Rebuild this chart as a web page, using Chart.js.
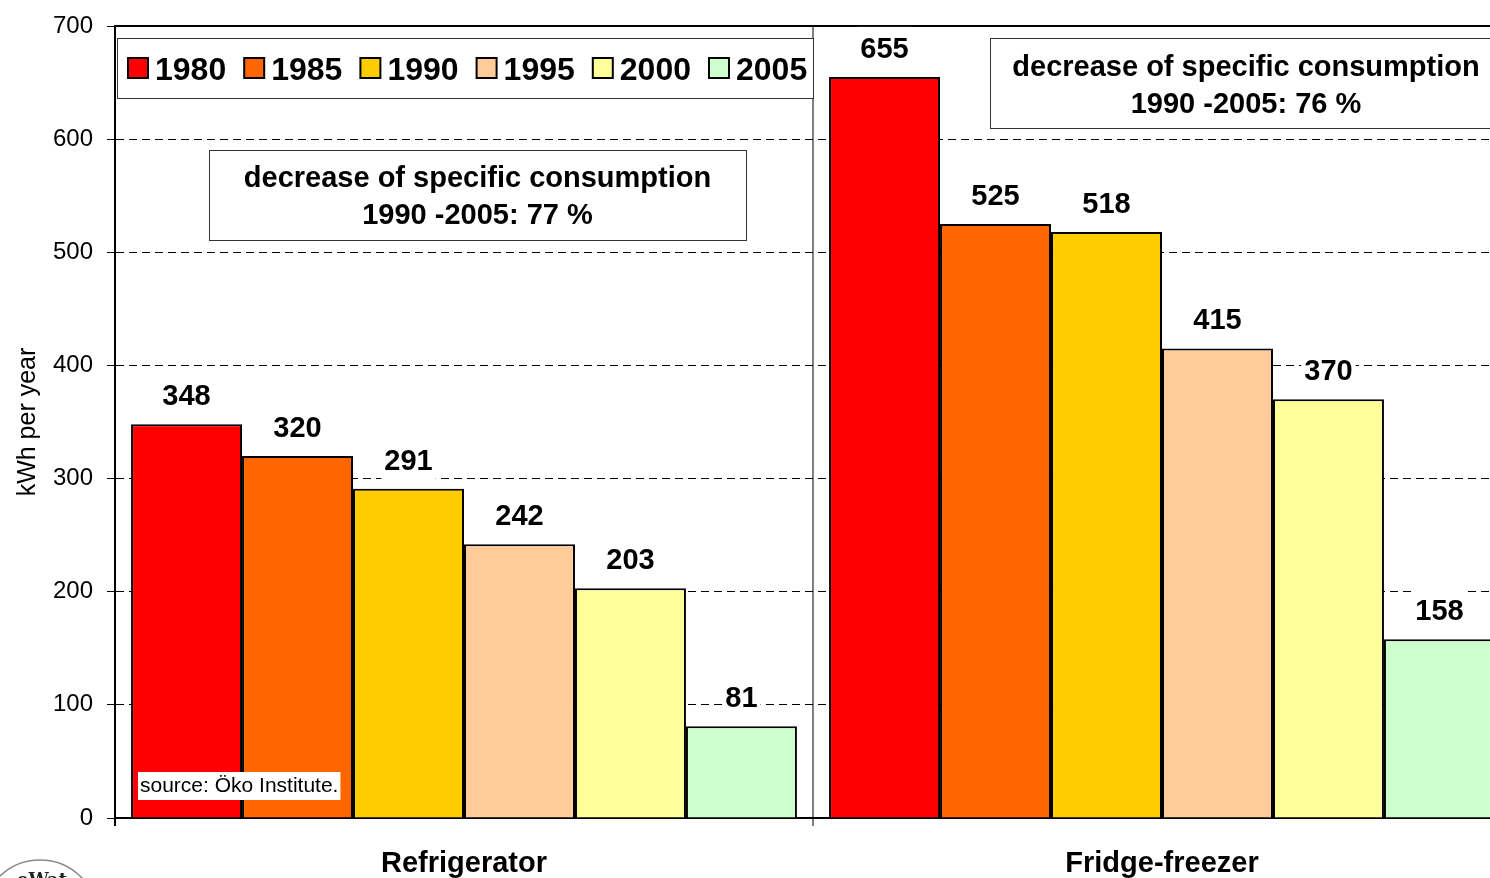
<!DOCTYPE html>
<html>
<head>
<meta charset="utf-8">
<title>Specific consumption of cold appliances</title>
<script src="https://cdn.jsdelivr.net/npm/chart.js@4.4.0/dist/chart.umd.min.js"></script>
<style>
  html, body { margin: 0; padding: 0; background: #fff; overflow: hidden; }
  #wrap { width: 1512px; height: 878px; }
</style>
</head>
<body>
<div id="wrap"><canvas id="chart" width="1512" height="878"></canvas></div>
<script>
// categories on the x axis
var categories = ['Refrigerator', 'Fridge-freezer'];

// one dataset per year
var years = ['1980', '1985', '1990', '1995', '2000', '2005'];
var colors = ['#FF0000', '#FF6600', '#FFCC00', '#FFCC99', '#FFFF99', '#CCFFCC'];

// kWh per year, same order as years
var refrigerator = [348, 320, 291, 242, 203, 81];
var fridgeFreezer = [655, 525, 518, 415, 370, 158];

// y axis
var yMin = 0;
var yMax = 700;
var yStep = 100;

// text boxes
var noteRefrigerator = ['decrease of specific consumption', '1990 -2005: 77 %'];
var noteFridgeFreezer = ['decrease of specific consumption', '1990 -2005: 76 %'];
var sourceText = 'source: \u00D6ko Institute.';

var FONT = 'Arial, "Liberation Sans", sans-serif';

var datasets = years.map(function (y, i) {
    return {
        label: y,
        data: [refrigerator[i], fridgeFreezer[i]],
        backgroundColor: colors[i],
        borderColor: '#000',
        borderWidth: 2,
        categoryPercentage: 0.954,
        barPercentage: 1.0
    };
});

//top frame line (the 700 gridline is solid)
var frameTop = {
    id: 'frameTop',
    beforeDatasetsDraw: function (chart) {
        var ctx = chart.ctx, a = chart.chartArea;
        ctx.save();
        ctx.strokeStyle = '#000';
        ctx.lineWidth = 2;
        ctx.beginPath();
        ctx.moveTo(a.left, a.top);
        ctx.lineTo(a.right, a.top);
        ctx.stroke();
        ctx.restore();
    }
};

//value above each bar, on a white patch
var valueLabels = {
    id: 'valueLabels',
    afterDatasetsDraw: function (chart) {
        var ctx = chart.ctx;
        ctx.save();
        ctx.font = 'bold 29px ' + FONT;
        ctx.textAlign = 'center';
        ctx.textBaseline = 'alphabetic';
        chart.data.datasets.forEach(function (ds, i) {
            chart.getDatasetMeta(i).data.forEach(function (bar, j) {
                var txt = String(ds.data[j]);
                var w = ctx.measureText(txt).width;
                ctx.fillStyle = '#fff';
                ctx.fillRect(bar.x - w / 2 - 3, bar.y - 50, w + 6, 46);
                ctx.fillStyle = '#000';
                ctx.fillText(txt, bar.x, bar.y - 19);
            });
        });
        ctx.restore();
    }
};

function noteBox(ctx, x, y, w, h, lines, lineGap, shift) {
    ctx.fillStyle = '#fff';
    ctx.fillRect(x, y, w, h);
    ctx.strokeStyle = '#333';
    ctx.lineWidth = 1;
    ctx.strokeRect(x + 0.5, y + 0.5, w, h);
    ctx.fillStyle = '#000';
    ctx.font = 'bold 29px ' + FONT;
    ctx.textAlign = 'center';
    ctx.textBaseline = 'middle';
    var cy = y + h / 2 - lineGap * (lines.length - 1) / 2 + shift;
    lines.forEach(function (l, k) {
        ctx.fillText(l, x + w / 2, cy + k * lineGap);
    });
}

//legend box, notes, source
var extras = {
    id: 'extras',
    afterDatasetsDraw: function (chart) {
        var ctx = chart.ctx, a = chart.chartArea;
        ctx.save();

        // legend
        var lx = a.left + 2, ly = 38;
        ctx.fillStyle = '#fff';
        ctx.fillRect(lx, ly, 696, 60);
        ctx.strokeStyle = '#333';
        ctx.lineWidth = 1;
        ctx.strokeRect(lx + 0.5, ly + 0.5, 696, 60);
        ctx.font = 'bold 32px ' + FONT;
        ctx.textAlign = 'left';
        ctx.textBaseline = 'alphabetic';
        chart.data.datasets.forEach(function (ds, i) {
            var x = lx + 11 + i * 116.2;
            ctx.fillStyle = ds.backgroundColor;
            ctx.fillRect(x, ly + 20, 20, 20);
            ctx.strokeStyle = '#000';
            ctx.lineWidth = 2;
            ctx.strokeRect(x, ly + 20, 20, 20);
            ctx.fillStyle = '#000';
            ctx.fillText(ds.label, x + 27, ly + 42);
        });

        noteBox(ctx, 209, 150, 537, 90, noteRefrigerator, 37, 2);
        noteBox(ctx, 990, 38, 512, 90, noteFridgeFreezer, 37, 3);

        // source
        ctx.font = '21px ' + FONT;
        var sw = ctx.measureText(sourceText).width;
        ctx.fillStyle = '#fff';
        ctx.fillRect(138, 772, sw + 4, 28);
        ctx.fillStyle = '#000';
        ctx.textAlign = 'left';
        ctx.textBaseline = 'middle';
        ctx.fillText(sourceText, 140, 786);

        ctx.restore();
    },
    afterDraw: function (chart) {
        // bit of the logo at bottom left
        var ctx = chart.ctx;
        ctx.save();
        ctx.strokeStyle = '#888';
        ctx.lineWidth = 1.5;
        ctx.beginPath();
        ctx.arc(40, 918, 58, 0, Math.PI * 2);
        ctx.stroke();
        ctx.fillStyle = '#222';
        ctx.font = 'bold 18px "DejaVu Serif", serif';
        ctx.textAlign = 'center';
        ctx.textBaseline = 'alphabetic';
        ctx.fillText('eWat', 42, 886);
        ctx.restore();
    }
};

var chart = new Chart(document.getElementById('chart').getContext('2d'), {
    type: 'bar',
    data: {
        labels: categories,
        datasets: datasets
    },
    options: {
        responsive: false,
        animation: false,
        layout: { padding: { top: 23, right: 1, left: 0, bottom: 0 } },
        plugins: {
            legend: { display: false },
            tooltip: { enabled: false }
        },
        scales: {
            x: {
                offset: true,
                grid: {
                    offset: true,
                    lineWidth: 2,
                    tickLength: 8,
                    color: function (c) { return c.index === 1 ? '#808080' : 'transparent'; },
                    tickColor: function (c) {
                        if (c.index === 0) return '#000';
                        if (c.index === 1) return '#808080';
                        return 'transparent';
                    }
                },
                border: { color: '#000', width: 2 },
                ticks: {
                    color: '#000',
                    padding: 21,
                    font: { family: FONT, size: 29, weight: 'bold' }
                },
                afterFit: function (s) { s.height = 60; }
            },
            y: {
                min: yMin,
                max: yMax,
                ticks: {
                    stepSize: yStep,
                    color: '#000',
                    padding: 14,
                    font: { family: FONT, size: 24, lineHeight: 1 }
                },
                grid: {
                    lineWidth: 1,
                    tickLength: 8,
                    tickColor: '#000',
                    color: function (c) {
                        if (!c.tick) return 'transparent';
                        return (c.tick.value === yMin || c.tick.value === yMax) ? 'transparent' : '#000';
                    }
                },
                border: { color: '#000', width: 2, dash: [8, 5] },
                title: {
                    display: true,
                    text: 'kWh per year',
                    color: '#000',
                    font: { family: FONT, size: 25 },
                    padding: { top: 13, bottom: 0 }
                },
                afterFit: function (s) { s.width = 115; }
            }
        }
    },
    plugins: [frameTop, valueLabels, extras]
});
</script>
</body>
</html>
